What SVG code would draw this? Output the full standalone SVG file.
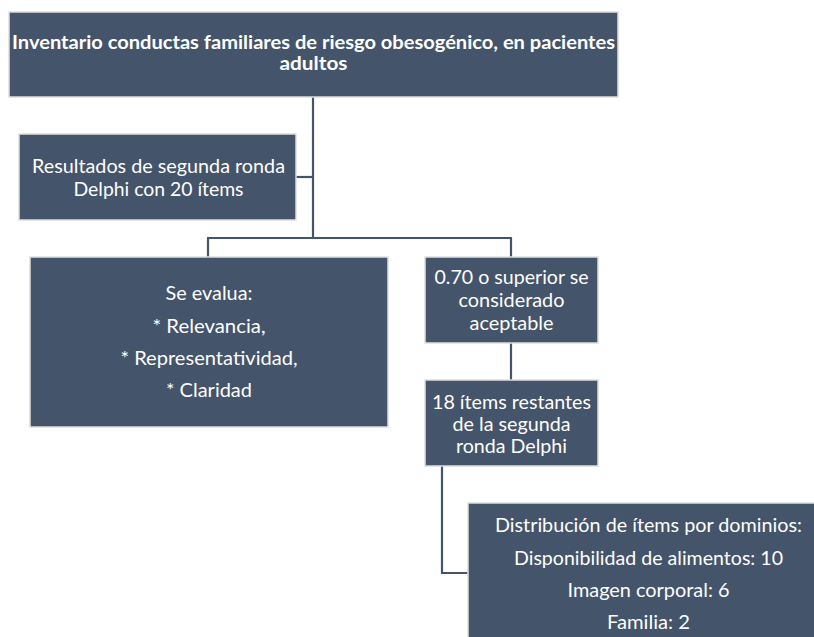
<svg xmlns="http://www.w3.org/2000/svg" width="814" height="637" viewBox="0 0 814 637">
  <style>
    .box { fill: #44546A; stroke: #DEDEDE; stroke-width: 1.5; }
    .t { font-family: Lato, "Open Sans", sans-serif; font-size: 20px; fill: #FFFFFF; text-anchor: middle; }
    .tb { font-family: Lato, "Open Sans", sans-serif; font-size: 19.5px; font-weight: bold; fill: #FFFFFF; text-anchor: middle; }
    .conn { fill: none; stroke: #44546A; stroke-width: 2.2; }
  </style>
  <rect width="814" height="637" fill="#FFFFFF"/>

  <g id="connectors">
    <line class="conn" x1="313" y1="97" x2="313" y2="238"/>
    <line class="conn" x1="296" y1="177" x2="313" y2="177"/>
    <line class="conn" x1="207" y1="238" x2="512" y2="238"/>
    <line class="conn" x1="208" y1="238" x2="208" y2="257"/>
    <line class="conn" x1="511" y1="238" x2="511" y2="257"/>
    <line class="conn" x1="511" y1="343" x2="511" y2="380"/>
    <polyline class="conn" points="442,466 442,573 468,573"/>
  </g>

  <g id="n-inventario">
    <rect class="box" x="9" y="12" width="609" height="85"/>
    <text class="tb" x="313.5" y="49" textLength="603" lengthAdjust="spacingAndGlyphs">Inventario conductas familiares de riesgo obesogénico, en pacientes</text>
    <text class="tb" x="313.5" y="70" textLength="68" lengthAdjust="spacingAndGlyphs">adultos</text>
  </g>

  <g id="n-resultados">
    <rect class="box" x="19" y="134" width="277" height="86"/>
    <text class="t" x="158.5" y="173" textLength="253" lengthAdjust="spacingAndGlyphs">Resultados de segunda ronda</text>
    <text class="t" x="158.5" y="196" textLength="170" lengthAdjust="spacingAndGlyphs">Delphi con 20 ítems</text>
  </g>

  <g id="n-evalua">
    <rect class="box" x="30" y="257" width="358" height="170"/>
    <text class="t" x="209" y="300" textLength="87" lengthAdjust="spacingAndGlyphs">Se evalua:</text>
    <text class="t" x="209" y="332.5" textLength="113" lengthAdjust="spacingAndGlyphs">* Relevancia,</text>
    <text class="t" x="209" y="365" textLength="177" lengthAdjust="spacingAndGlyphs">* Representatividad,</text>
    <text class="t" x="209" y="397" textLength="86" lengthAdjust="spacingAndGlyphs">* Claridad</text>
  </g>

  <g id="n-aceptable">
    <rect class="box" x="425" y="257" width="173" height="86"/>
    <text class="t" x="511.5" y="284" textLength="154" lengthAdjust="spacingAndGlyphs">0.70 o superior se</text>
    <text class="t" x="511.5" y="307" textLength="106" lengthAdjust="spacingAndGlyphs">considerado</text>
    <text class="t" x="511.5" y="330" textLength="84" lengthAdjust="spacingAndGlyphs">aceptable</text>
  </g>

  <g id="n-restantes">
    <rect class="box" x="425" y="380" width="173" height="86"/>
    <text class="t" x="511.5" y="409" textLength="159" lengthAdjust="spacingAndGlyphs">18 ítems restantes</text>
    <text class="t" x="511.5" y="431" textLength="118" lengthAdjust="spacingAndGlyphs">de la segunda</text>
    <text class="t" x="511.5" y="453" textLength="111" lengthAdjust="spacingAndGlyphs">ronda Delphi</text>
  </g>

  <g id="n-distribucion">
    <rect class="box" x="468" y="503" width="362" height="160"/>
    <text class="t" x="648.5" y="532" textLength="307" lengthAdjust="spacingAndGlyphs">Distribución de ítems por dominios:</text>
    <text class="t" x="648.5" y="564.5" textLength="269" lengthAdjust="spacingAndGlyphs">Disponibilidad de alimentos: 10</text>
    <text class="t" x="648.5" y="597" textLength="162" lengthAdjust="spacingAndGlyphs">Imagen corporal: 6</text>
    <text class="t" x="648.5" y="629" textLength="83" lengthAdjust="spacingAndGlyphs">Familia: 2</text>
  </g>
</svg>
